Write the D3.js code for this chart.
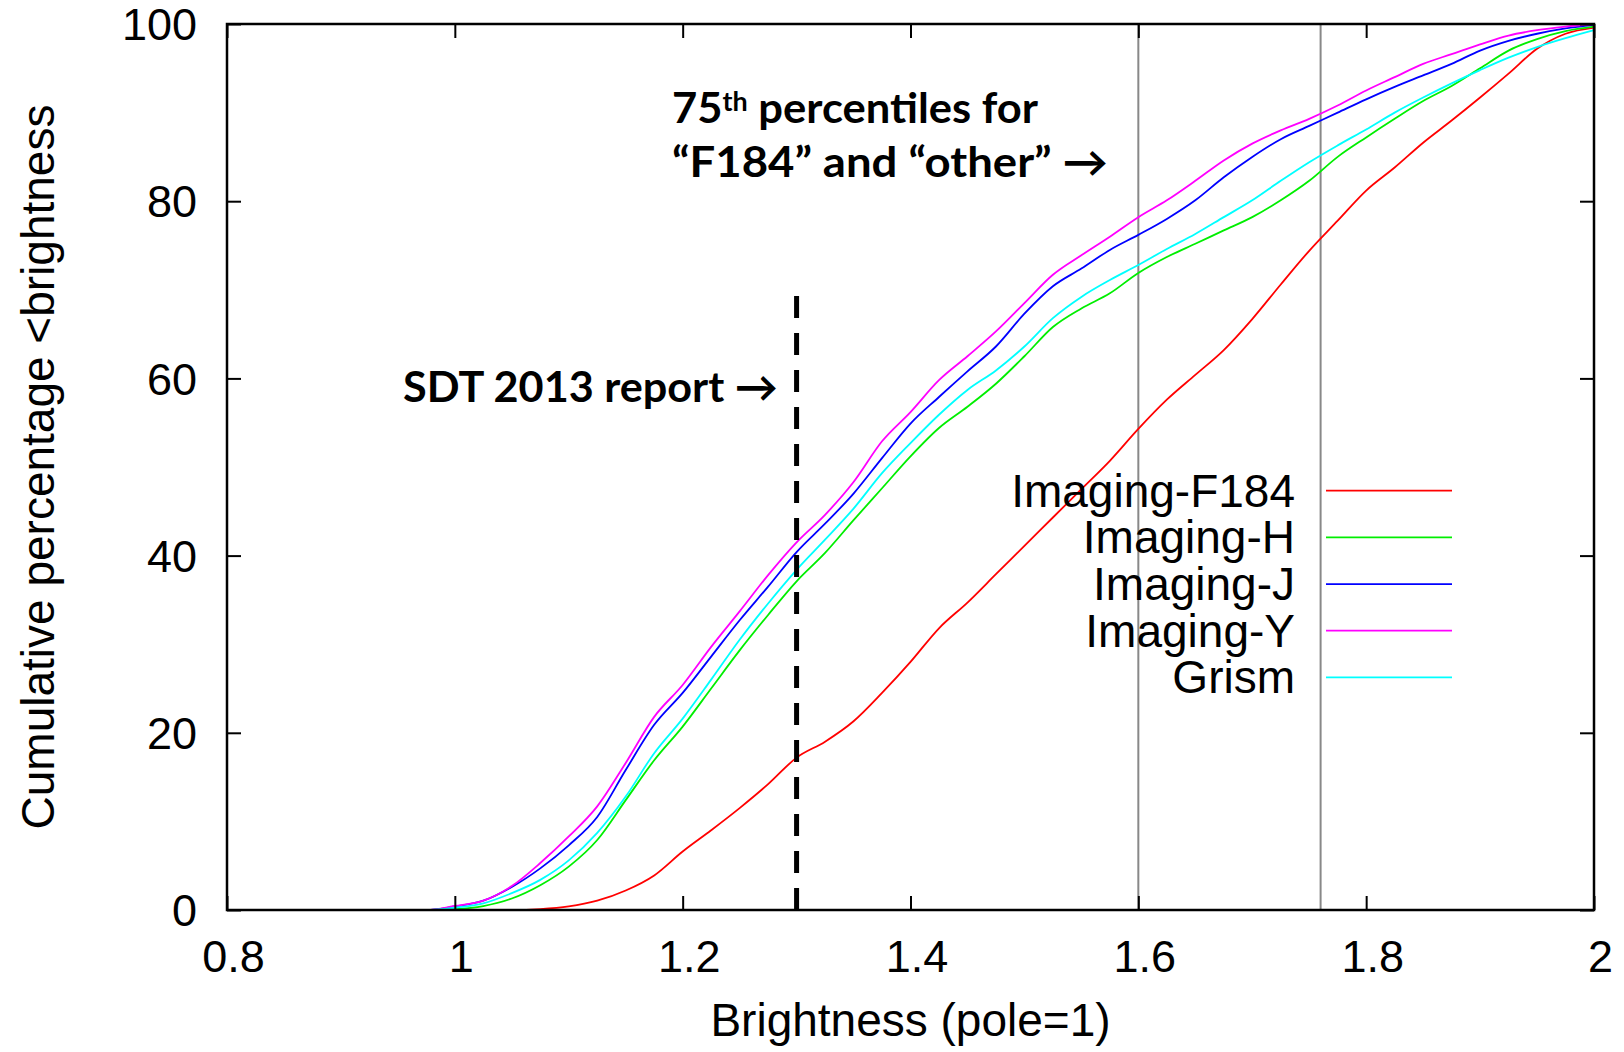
<!DOCTYPE html>
<html>
<head>
<meta charset="utf-8">
<script src="https://cdn.jsdelivr.net/npm/d3@7"></script>
<style>
  body { margin: 0; background: #fff; }
  .axis text { font-family: "Liberation Sans", Arial, sans-serif; font-size: 45px; fill: #000; }
  .axis line { stroke: #000; stroke-width: 2px; }
  .note { font-family: Lato, "Open Sans", sans-serif; font-weight: bold; fill: #000; }
</style>
</head>
<body>
<div id="chart"></div>
<script>
// brightness grid (pole = 1)
var brightness = [0.8, 0.975, 1.0, 1.025, 1.05, 1.075, 1.1, 1.125, 1.15, 1.175, 1.2, 1.225, 1.25, 1.275,
  1.3, 1.325, 1.35, 1.375, 1.4, 1.425, 1.45, 1.475, 1.5, 1.525, 1.55, 1.575, 1.6, 1.625, 1.65, 1.675,
  1.7, 1.725, 1.75, 1.775, 1.8, 1.825, 1.85, 1.875, 1.9, 1.925, 1.95, 1.975, 2.0];

var imagingF184 = [0, 0, 0, 0, 0, 0.1, 0.4, 1.05, 2.2, 3.9, 6.6, 9.0, 11.5, 14.2,
  17.2, 19, 21.3, 24.5, 28, 31.8, 34.7, 37.9, 41.1, 44.3, 47.5, 50.7, 54.3, 57.6, 60.4, 63.2,
  66.7, 70.6, 74.4, 77.8, 81.2, 83.8, 86.6, 89.1, 91.7, 94.4, 97.2, 98.9, 99.6];
var imagingH = [0, 0, 0.1, 0.45, 1.3, 2.8, 4.9, 7.9, 12.4, 16.9, 20.7, 25, 29.3, 33.3,
  37.1, 40.3, 44, 47.6, 51.2, 54.4, 56.8, 59.4, 62.5, 65.8, 67.9, 69.6, 71.9, 73.7, 75.2, 76.7,
  78.2, 80.1, 82.3, 85, 87.2, 89.3, 91.3, 93.0, 95.0, 97.0, 98.3, 99.2, 99.7];
var imagingJ = [0, 0, 0.4, 1.05, 2.6, 4.7, 7.3, 10.5, 15.8, 20.9, 24.5, 28.6, 32.7, 36.5,
  40.4, 43.6, 47, 51, 54.9, 57.9, 60.8, 63.6, 67.3, 70.4, 72.4, 74.5, 76.2, 78, 80.1, 82.7,
  85, 87, 88.5, 90, 91.5, 92.9, 94.2, 95.5, 97, 98.1, 98.9, 99.5, 99.9];
var imagingY = [0, 0, 0.45, 1.05, 2.7, 5.3, 8.3, 11.7, 16.6, 21.8, 25.4, 29.7, 33.7, 37.8,
  41.5, 44.6, 48.3, 52.9, 56.2, 59.8, 62.5, 65.3, 68.5, 71.7, 73.9, 76, 78.2, 80.1, 82.3, 84.6,
  86.5, 88, 89.3, 90.8, 92.5, 94, 95.5, 96.6, 97.7, 98.7, 99.3, 99.7, 100];
var grism = [0, 0, 0.26, 0.75, 1.9, 3.4, 5.6, 8.7, 12.8, 17.7, 21.6, 26, 30.5, 34.6,
  38.4, 41.8, 45.3, 49.3, 52.7, 55.9, 58.7, 60.9, 63.6, 66.8, 69.2, 71.1, 72.8, 74.6, 76.3, 78.2,
  80.1, 82.3, 84.4, 86.3, 88.1, 90, 91.7, 93.3, 94.8, 96.2, 97.4, 98.4, 99.3];

var seriesNames = ["Imaging-F184", "Imaging-H", "Imaging-J", "Imaging-Y", "Grism"];
var seriesColors = ["#ff0000", "#00ee00", "#0000ff", "#ff00ff", "#00ffff"];
var seriesValues = [imagingF184, imagingH, imagingJ, imagingY, grism];

var xTicks = [0.8, 1, 1.2, 1.4, 1.6, 1.8, 2];
var yTicks = [0, 20, 40, 60, 80, 100];
var percentileLines = [1.6, 1.76];   // 75th percentiles
var sdtValue = 1.3, sdtTop = 70;

var margin = { top: 24, right: 30, bottom: 142, left: 227 },
  width = 1624 - margin.left - margin.right,
  height = 1052 - margin.top - margin.bottom;

var x = d3.scaleLinear().domain([0.8, 2]).range([0, width]),
  y = d3.scaleLinear().domain([0, 100]).range([height, 0]);

var svg = d3.select("#chart")
  .append("svg")
  .attr("width", 1624)
  .attr("height", 1052);

var g = svg.append("g")
  .attr("transform", "translate(" + margin.left + "," + margin.top + ")");

// vertical gray lines
g.selectAll(".pct")
  .data(percentileLines)
  .enter()
  .append("line")
  .attr("x1", function (d) { return x(d); })
  .attr("x2", function (d) { return x(d); })
  .attr("y1", y(0))
  .attr("y2", y(100))
  .attr("stroke", "#888")
  .attr("stroke-width", 2);

// curves
var line = d3.line()
  .x(function (d) { return x(d[0]); })
  .y(function (d) { return y(d[1]); })
  .curve(d3.curveMonotoneX);

seriesValues.forEach(function (vals, i) {
  g.append("path")
    .datum(brightness.map(function (b, j) { return [b, vals[j]]; }))
    .attr("fill", "none")
    .attr("stroke", seriesColors[i])
    .attr("stroke-width", 1.8)
    .attr("d", line);
});

// SDT 2013 dashed line
g.append("line")
  .attr("x1", x(sdtValue))
  .attr("x2", x(sdtValue))
  .attr("y1", y(0))
  .attr("y2", y(sdtTop))
  .attr("stroke", "#000")
  .attr("stroke-width", 5)
  .attr("stroke-dasharray", "22,15");

// axes (ticks inward, mirrored)
var xAxis = d3.axisBottom(x).tickValues(xTicks).tickSizeInner(-14).tickSizeOuter(0).tickPadding(30)
  .tickFormat(d3.format("~g"));
var yAxis = d3.axisLeft(y).tickValues(yTicks).tickSizeInner(-14).tickSizeOuter(0).tickPadding(30);

var gx = g.append("g").attr("class", "axis").attr("transform", "translate(0," + height + ")").call(xAxis);
gx.select(".domain").remove();
gx.selectAll("text").attr("dy", "0.71em").attr("dx", 6);

var gy = g.append("g").attr("class", "axis").call(yAxis);
gy.select(".domain").remove();
gy.selectAll("text").attr("dy", "0.35em");

var gxt = g.append("g").attr("class", "axis")
  .call(d3.axisTop(x).tickValues(xTicks).tickSizeInner(-14).tickSizeOuter(0).tickFormat(""));
gxt.select(".domain").remove();
var gyr = g.append("g").attr("class", "axis").attr("transform", "translate(" + width + ",0)")
  .call(d3.axisRight(y).tickValues(yTicks).tickSizeInner(-14).tickSizeOuter(0).tickFormat(""));
gyr.select(".domain").remove();

// frame
g.append("rect")
  .attr("width", width)
  .attr("height", height)
  .attr("fill", "none")
  .attr("stroke", "#000")
  .attr("stroke-width", 2.5);

// axis titles
svg.append("text")
  .attr("x", margin.left + width / 2)
  .attr("y", 1036)
  .attr("text-anchor", "middle")
  .style("font-family", "'Liberation Sans', Arial, sans-serif")
  .style("font-size", "46px")
  .text("Brightness (pole=1)");

svg.append("text")
  .attr("transform", "translate(54," + (margin.top + height / 2) + ") rotate(-90)")
  .attr("text-anchor", "middle")
  .style("font-family", "'Liberation Sans', Arial, sans-serif")
  .style("font-size", "46px")
  .text("Cumulative percentage <brightness");

// legend
var legend = g.append("g").attr("transform", "translate(" + (1295 - margin.left) + "," + (490.7 - margin.top) + ")");
seriesNames.forEach(function (name, i) {
  var row = legend.append("g").attr("transform", "translate(0," + i * 46.67 + ")");
  row.append("text")
    .attr("text-anchor", "end")
    .attr("dy", "0.35em")
    .style("font-family", "'Liberation Sans', Arial, sans-serif")
    .style("font-size", "46px")
    .text(name);
  row.append("line")
    .attr("x1", 31).attr("x2", 157)
    .attr("stroke", seriesColors[i])
    .attr("stroke-width", 1.8);
});

// annotations
svg.append("text")
  .attr("class", "note")
  .attr("x", 403).attr("y", 402)
  .attr("textLength", 375).attr("lengthAdjust", "spacingAndGlyphs")
  .style("font-size", "42px")
  .text("SDT 2013 report \u2192");

var t1 = svg.append("text")
  .attr("class", "note")
  .attr("x", 672).attr("y", 123)
  .attr("textLength", 366).attr("lengthAdjust", "spacingAndGlyphs")
  .style("font-size", "42px");
t1.append("tspan").text("75");
t1.append("tspan").attr("dy", -12).style("font-size", "26px").text("th");
t1.append("tspan").attr("dy", 12).text(" percentiles for");

svg.append("text")
  .attr("class", "note")
  .attr("x", 672).attr("y", 177)
  .attr("textLength", 436).attr("lengthAdjust", "spacingAndGlyphs")
  .style("font-size", "42px")
  .text("\u201cF184\u201d and \u201cother\u201d \u2192");
</script>
</body>
</html>
